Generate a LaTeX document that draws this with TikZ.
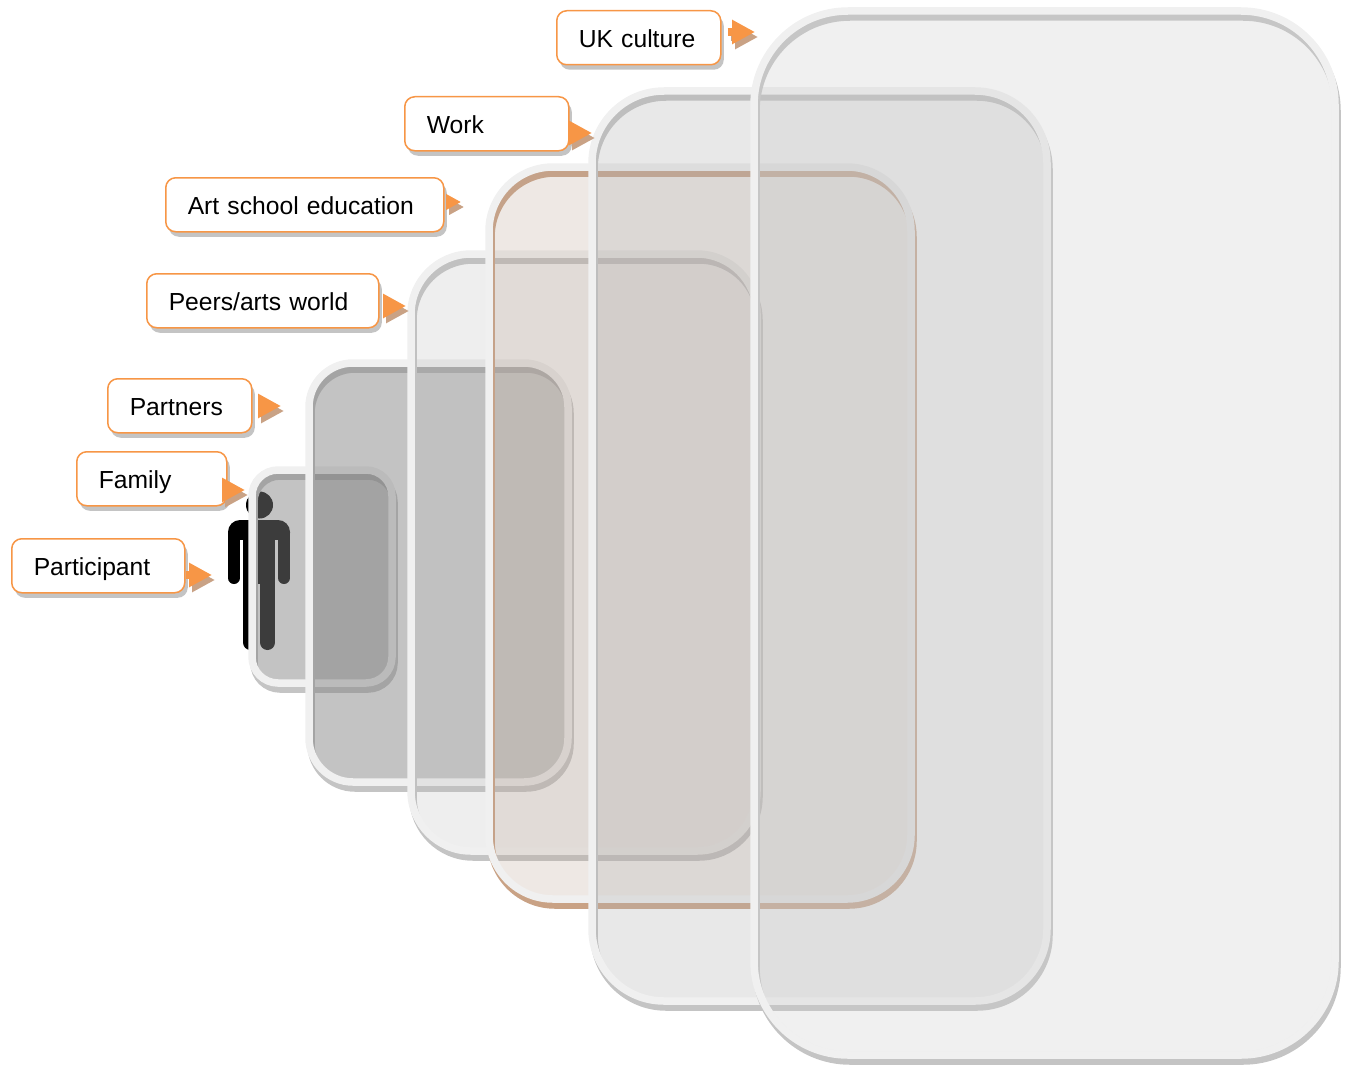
\documentclass[tikz,border=0pt]{standalone}
\usepackage{fontspec}
\setmainfont{Liberation Sans}
\usetikzlibrary{arrows.meta, shadows}
\definecolor{corange}{HTML}{F79646}
\definecolor{cshade}{HTML}{C4C4C4}
\definecolor{ctan}{HTML}{C9A285}
\definecolor{cedge}{HTML}{F0F0F0}
\definecolor{cart}{HTML}{BCA595}
\tikzset{
  callout/.style={draw=corange, fill=white, line width=0.75pt, rounded corners=5pt, text width=#1, align=left,
    inner xsep=11pt, inner ysep=0pt, minimum height=27pt, text height=9.8pt, text depth=0.3pt,
    font=\fontsize{12.33}{15}\selectfont, anchor=north west,
    general shadow={fill=cshade, shadow xshift=1.5pt, shadow yshift=-2.5pt}},
  pointer/.style={corange, line width=4pt, -{Triangle[length=#1, width=#1]},
    preaction={draw=ctan, line width=4pt, -{Triangle[length=#1, width=#1]}, transform canvas={shift={(1.5pt,-2.5pt)}}}},
  pointer/.default=11.5pt,
  panel/.style={draw=cedge, line width=3.75pt, fill=#1,
    preaction={draw=cshade, line width=3.75pt, transform canvas={shift={(1pt,-3pt)}}}},
  warmpanel/.style={draw=cedge, line width=3.75pt, fill=#1,
    preaction={draw=ctan, line width=3.75pt, transform canvas={shift={(1pt,-3pt)}}}},
}
\begin{document}
\begin{tikzpicture}[x=0.5pt, y=-0.5pt]
  \useasboundingbox (0,0) rectangle (1348,1065);
  % the figure
  \fill[black] (259.5,505) circle [radius=13.5];
  \fill[black, rounded corners=6pt] (228,545) -- (228,520) -- (290,520) -- (290,545) -- cycle;
  \fill[white] (240,540) rectangle (278,550);
  \fill[black] (243,530) rectangle (275,584);
  \draw[black, line width=6pt, line cap=round] (234,535) -- (234,578);
  \draw[black, line width=6pt, line cap=round] (284,535) -- (284,578);
  \draw[black, line width=7.5pt, line cap=round] (250.5,580) -- (250.5,642.5);
  \draw[black, line width=7.5pt, line cap=round] (267.5,580) -- (267.5,642.5);
  % the panels, small to large
  \draw[panel={gray, fill opacity=0.47}, rounded corners=13pt] (252,470) rectangle (392,683);
  \draw[panel={gray, fill opacity=0.47}, rounded corners=22pt] (309,363) rectangle (568,782);
  \draw[panel={black!27, fill opacity=0.25}, rounded corners=30pt] (411,254) rectangle (757,851);
  \draw[warmpanel={cart, fill opacity=0.25}, rounded corners=32pt] (489,167) rectangle (911,899);
  \draw[panel={black!30, fill opacity=0.3}, rounded corners=36pt] (592,91) rectangle (1047,1001);
  \draw[panel={black!20, fill opacity=0.3}, rounded corners=47pt] (754,11) rectangle (1335,1055);
  % the labels
  \node[callout=64.5pt] (participant) at (11,538) {Participant};
  \node[callout=53pt] (family) at (76,451) {Family};
  \node[callout=50pt] (partners) at (107,378) {Partners};
  \node[callout=94pt] (peers) at (146,273) {Peers/arts world};
  \node[callout=117pt] (artschool) at (165,177) {Art school education};
  \node[callout=60pt] (workbox) at (404,96) {Work};
  \node[callout=60pt] (ukculture) at (556,10) {UK culture};
  % the pointers
  \coordinate (participanttip) at (212,575);
  \coordinate (familytip) at (245,490);
  \coordinate (partnerstip) at (281,406);
  \coordinate (peerstip) at (406,306);
  \coordinate (artschooltip) at (461,202);
  \coordinate (worktip) at (592,133);
  \coordinate (uktip) at (755,32);
  \draw[pointer] (participant.east |- participanttip) -- (participanttip);
  \draw[pointer] (family.east |- familytip) -- (familytip);
  \draw[pointer, shorten <=3pt] (partners.east |- partnerstip) -- (partnerstip);
  \draw[pointer, shorten <=2pt] (peers.east |- peerstip) -- (peerstip);
  \draw[pointer=7.5pt, shorten <=1pt] (artschool.east |- artschooltip) -- (artschooltip);
  \draw[pointer] (workbox.east |- worktip) -- (worktip);
  \draw[pointer, shorten <=3pt] (ukculture.east |- uktip) -- (uktip);
\end{tikzpicture}
\end{document}
